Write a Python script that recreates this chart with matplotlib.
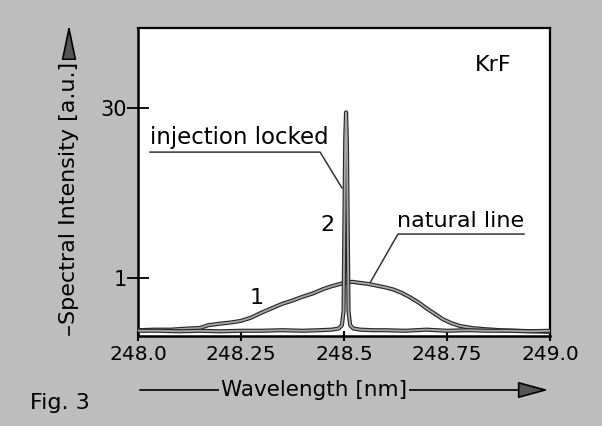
import numpy
from matplotlib import pyplot
from matplotlib import patheffects
from matplotlib.patches import FancyArrowPatch
from matplotlib.ticker import FixedLocator, NullLocator

# natural (free running) KrF line, curve 1
NATURAL_WL = [248.0, 248.04, 248.08, 248.12, 248.15, 248.17, 248.2, 248.225, 248.25, 248.275,
              248.3, 248.325, 248.35, 248.375, 248.4, 248.425, 248.45, 248.47, 248.49, 248.505,
              248.52, 248.54, 248.56, 248.58, 248.6, 248.62, 248.64, 248.66, 248.68, 248.7,
              248.72, 248.74, 248.76, 248.78, 248.81, 248.84, 248.88, 248.92, 248.96, 249.0]
NATURAL_I = [0.05, 0.06, 0.06, 0.08, 0.09, 0.14, 0.17, 0.19, 0.22, 0.28,
             0.37, 0.45, 0.53, 0.59, 0.66, 0.72, 0.8, 0.85, 0.89, 0.92,
             0.93, 0.91, 0.89, 0.86, 0.83, 0.79, 0.73, 0.65, 0.56, 0.45,
             0.35, 0.25, 0.18, 0.13, 0.09, 0.07, 0.05, 0.04, 0.03, 0.02]

# injection locked line, curve 2
LOCKED_WL = [248.0, 248.05, 248.1, 248.15, 248.2, 248.25, 248.3, 248.35, 248.4, 248.44,
             248.47, 248.487, 248.495, 248.499, 248.501, 248.503, 248.505, 248.507, 248.509,
             248.511, 248.515, 248.523, 248.54, 248.57, 248.6, 248.65, 248.7, 248.75, 248.8,
             248.85, 248.9, 248.95, 249.0]
LOCKED_I = [0.04, 0.04, 0.03, 0.04, 0.03, 0.04, 0.04, 0.05, 0.04, 0.05,
            0.06, 0.08, 0.14, 0.4, 3.0, 16.0, 27.5, 16.0, 3.0,
            0.4, 0.14, 0.08, 0.06, 0.05, 0.05, 0.04, 0.06, 0.04, 0.05,
            0.04, 0.04, 0.03, 0.04]

X_TICKS = [248.0, 248.25, 248.5, 248.75, 249.0]
X_TICK_LABELS = ["248.0", "248.25", "248.5", "248.75", "249.0"]
Y_TICKS = [1, 30]
Y_TICK_LABELS = ["1", "30"]

BACKGROUND = "#bdbdbd"

pyplot.rcParams["font.family"] = ["DejaVu Sans"]

figure = pyplot.figure(figsize=(6.02, 4.26), dpi=100, facecolor=BACKGROUND)
axis = figure.add_axes([0.2292, 0.2113, 0.6844, 0.723])
axis.set_facecolor("white")

outline = [patheffects.Stroke(linewidth=3.0, foreground="#2a2a2a"), patheffects.Normal()]
axis.plot(NATURAL_WL, NATURAL_I, color="#a8a8a8", linewidth=1.3, path_effects=outline, zorder=3)
axis.plot(LOCKED_WL, LOCKED_I, color="#a8a8a8", linewidth=1.3, path_effects=outline, zorder=4)

axis.set_yscale("symlog", linthresh=1.0, linscale=0.43)
axis.set_xlim(248.0, 249.0)
axis.set_ylim(-0.055, 149)

axis.xaxis.set_major_locator(FixedLocator(X_TICKS))
axis.set_xticklabels(X_TICK_LABELS)
axis.yaxis.set_major_locator(FixedLocator(Y_TICKS))
axis.set_yticklabels(Y_TICK_LABELS)
axis.xaxis.set_minor_locator(NullLocator())
axis.yaxis.set_minor_locator(NullLocator())
axis.tick_params(axis="x", direction="inout", length=7, width=1.5, labelsize=14.5, pad=3)
axis.tick_params(axis="y", direction="inout", length=16, width=1.3, labelsize=15, pad=0)
for spine in axis.spines.values():
    spine.set_linewidth(1.8)
for spine in ("top", "right"):
    axis.spines[spine].set_linewidth(1.6)

# annotations inside the frame
axis.text(0.862, 0.880, "KrF", transform=axis.transAxes, fontsize=16, ha="center", va="center")
axis.text(0.029, 0.646, "injection locked", transform=axis.transAxes, fontsize=16.5, ha="left", va="center")
axis.plot([0.029, 0.442, 0.495], [0.597, 0.597, 0.481], transform=axis.transAxes,
          color="#333333", linewidth=1.1, zorder=2)
axis.text(0.629, 0.373, "natural line", transform=axis.transAxes, fontsize=16, ha="left", va="center")
axis.plot([0.937, 0.631, 0.563], [0.331, 0.331, 0.172], transform=axis.transAxes,
          color="#333333", linewidth=1.1, zorder=2)
axis.text(0.461, 0.360, "2", transform=axis.transAxes, fontsize=16, ha="center", va="center")
axis.text(0.289, 0.123, "1", transform=axis.transAxes, fontsize=16, ha="center", va="center")

# axis titles drawn as arrows with the text over them
y_arrow = FancyArrowPatch((0.1146, 0.2066), (0.1146, 0.9484), transform=figure.transFigure,
                          arrowstyle="-|>,head_length=22,head_width=4.6", mutation_scale=1,
                          facecolor="#555555", edgecolor="black", linewidth=1.2)
figure.add_artist(y_arrow)
figure.text(0.1146, 0.547, "Spectral Intensity [a.u.]", rotation=90, fontsize=16,
            ha="center", va="center",
            bbox=dict(facecolor=BACKGROUND, edgecolor="none", pad=1.5))

x_arrow = FancyArrowPatch((0.2276, 0.0845), (0.9153, 0.0845), transform=figure.transFigure,
                          arrowstyle="-|>,head_length=19,head_width=5.2", mutation_scale=1,
                          facecolor="#555555", edgecolor="black", linewidth=1.2)
figure.add_artist(x_arrow)
figure.text(0.5216, 0.0845, "Wavelength [nm]", fontsize=15.5, ha="center", va="center",
            bbox=dict(facecolor=BACKGROUND, edgecolor="none", pad=1.5))

figure.text(0.0997, 0.054, "Fig. 3", fontsize=16, ha="center", va="center")

figure.savefig("out.png", dpi=100, facecolor=BACKGROUND)
